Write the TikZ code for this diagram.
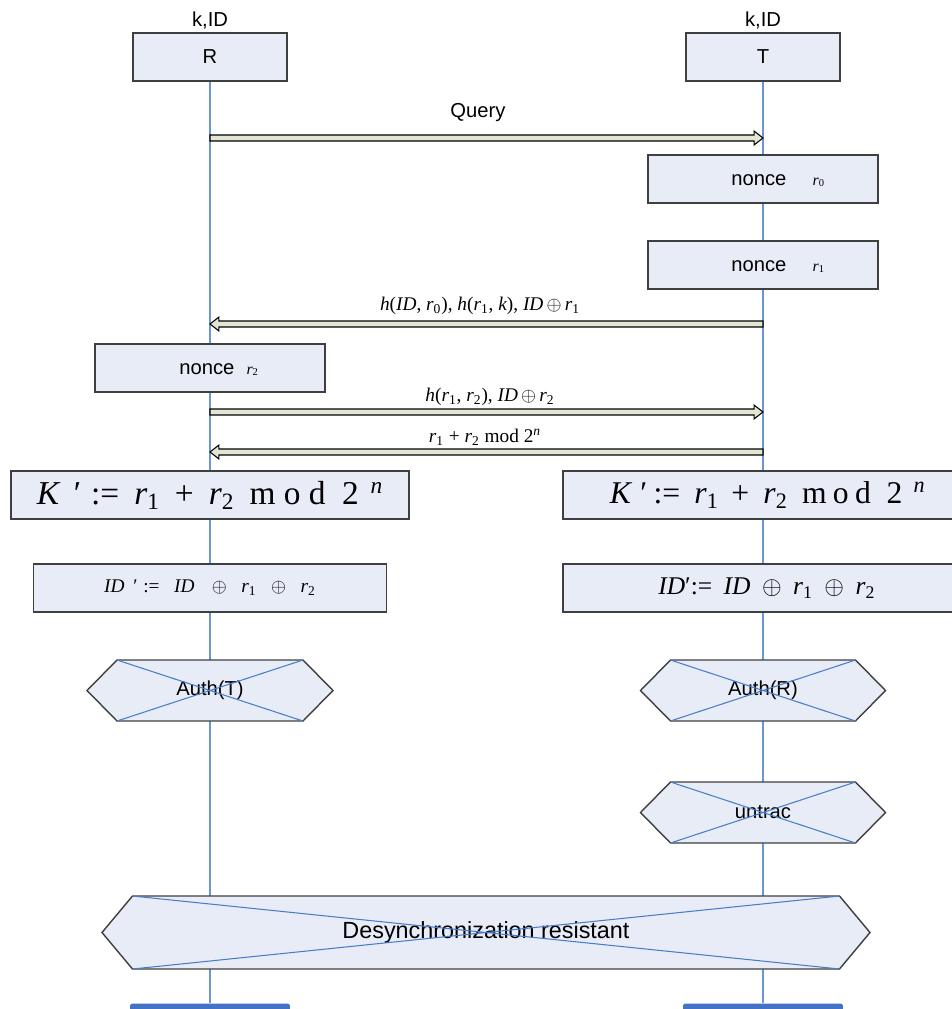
\documentclass[tikz,border=0pt]{standalone}
\usepackage{fontspec}
\setmainfont{Liberation Sans}
\newfontfamily\tms{Liberation Serif}
\usetikzlibrary{calc}

\definecolor{boxfill}{HTML}{E8ECF7}
\definecolor{boxline}{HTML}{3F3F3F}
\definecolor{lifeblue}{HTML}{6A96D8}
\definecolor{crossblue}{HTML}{4A7CC8}
\definecolor{arrowfill}{HTML}{E3E6D3}
\definecolor{barblue}{HTML}{4472C4}

% Times-style italic variable, upright symbol, subscript
\newcommand\im[1]{{\tms\itshape #1}}
\newcommand\up[1]{{\tms\upshape #1}}
\newcommand\sbs[1]{\textsubscript{\tms\upshape #1}}
\newcommand\prm{{\tms\upshape\char"2032}}

% hexagonal decision box with a cross: name, cx, cy, half flat width, half height, half tip width, text
\newcommand\hexnode[7]{%
  \path[hexfill] (#2-#4,#3-#5) -- (#2+#4,#3-#5) -- (#2+#6,#3) -- (#2+#4,#3+#5)
    -- (#2-#4,#3+#5) -- (#2-#6,#3) -- cycle;
  \node[hextext] (#1) at (#2,#3) {#7};
  \draw[hexcross] (#2-#4,#3-#5) -- (#2+#4,#3+#5) (#2+#4,#3-#5) -- (#2-#4,#3+#5);
}

% hollow block arrow between two points at the same height
\newcommand\fatarrow[2]{%
  \path[msgarrow] let \p1=(#1), \p2=(#2), \n1={(\x2>\x1) ? 1 : -1} in
    (\x1,{\y1+1.7pt}) -- ({\x2-\n1*5pt},{\y1+1.7pt}) -- ({\x2-\n1*5pt},{\y1+3.9pt})
    -- (\x2,\y1) -- ({\x2-\n1*5pt},{\y1-3.9pt}) -- ({\x2-\n1*5pt},{\y1-1.7pt})
    -- (\x1,{\y1-1.7pt}) -- cycle;
}

\begin{document}
\begin{tikzpicture}[x=0.02cm, y=-0.02cm,
  box/.style={draw=boxline, fill=boxfill, line width=0.8pt, inner sep=0pt,
    font=\fontsize{11.5}{13}\selectfont},
  noncebox/.style={box, minimum width=4.6cm, minimum height=0.96cm, text height=7pt, text depth=0pt},
  lifeline/.style={draw=lifeblue, line width=0.6pt},
  hexfill/.style={draw=boxline, fill=boxfill, line width=0.8pt},
  hextext/.style={inner sep=0pt, font=\fontsize{11.5}{13}\selectfont},
  hexcross/.style={draw=crossblue, line width=0.6pt},
  msgarrow/.style={draw=black, fill=arrowfill, line width=0.6pt, line join=miter},
  msglabel/.style={inner sep=0pt, font=\fontsize{11}{13}\selectfont\tms},
  plain/.style={inner sep=0pt, font=\fontsize{11.5}{13}\selectfont},
  bar/.style={fill=barblue, draw=none, inner sep=0pt, minimum width=3.2cm, minimum height=0.22cm, rounded corners=1pt}
]
\useasboundingbox (0,0) rectangle (952,1009);

% participants
\node[plain] (kR) at (210,20) {k,ID};
\node[plain] (kT) at (763,20) {k,ID};
\node[box, minimum width=3.08cm, minimum height=0.96cm] (R) at (210,57) {R};
\node[box, minimum width=3.08cm, minimum height=0.96cm] (T) at (763,57) {T};
\node[bar] (endR) at (210,1009) {};
\node[bar] (endT) at (763,1009) {};

% lifelines
\draw[lifeline] (R.south) -- (endR.north);
\draw[lifeline] (T.south) -- (endT.north);

% message heights on the lifelines
\coordinate (y1) at (0,138);
\coordinate (y2) at (0,324);
\coordinate (y3) at (0,412);
\coordinate (y4) at (0,452);

% Query
\fatarrow{R |- y1}{T |- y1}
\node[plain] (lq) at (478,113) {Query};

% tag nonces
\node[noncebox] (n0) at (763,179)
  {\hspace{1.5em}nonce\hspace{1.3em}{\fontsize{9}{9}\selectfont\im{r}\sbs{0}}};
\node[noncebox] (n1) at (763,265)
  {\hspace{1.5em}nonce\hspace{1.3em}{\fontsize{9}{9}\selectfont\im{r}\sbs{1}}};

% tag -> reader
\fatarrow{T |- y2}{R |- y2}
\node[msglabel] (l2) at (480,306)
  {\im{h}(\im{ID}, \im{r}\sbs{0}), \im{h}(\im{r}\sbs{1}, \im{k}), \im{ID}\,$\oplus$\,\im{r}\sbs{1}};

% reader nonce
\node[noncebox] (n2) at (210,368)
  {\hspace{0.9em}nonce\hspace{0.6em}{\fontsize{9}{9}\selectfont\im{r}\sbs{2}}};

% reader -> tag
\fatarrow{R |- y3}{T |- y3}
\node[msglabel] (l3) at (490,397)
  {\im{h}(\im{r}\sbs{1}, \im{r}\sbs{2}), \im{ID}\,$\oplus$\,\im{r}\sbs{2}};

% tag -> reader
\fatarrow{T |- y4}{R |- y4}
\node[msglabel] (l4) at (485,437)
  {\im{r}\sbs{1} + \im{r}\sbs{2} mod 2\textsuperscript{\im{n}}};

% key update
\node[box, minimum width=7.96cm, minimum height=0.96cm] (kl) at (210,495)
  {\tms\fontsize{19}{19}\selectfont
   \textit{K}\hspace{0.4em}\prm\hspace{0.3em}:=\hspace{0.45em}\textit{r}\textsubscript{1}\hspace{0.45em}+\hspace{0.45em}\textit{r}\textsubscript{2}\hspace{0.45em}m\hspace{0.25em}o\hspace{0.25em}d\hspace{0.5em}2\hspace{0.35em}\textsuperscript{\textit{n}}};
\node[box, minimum width=8cm, minimum height=0.96cm] (kr) at (763,495)
  {\tms\fontsize{18}{18}\selectfont
   \hspace{0.3em}\textit{K}\hspace{0.25em}\prm\hspace{0.2em}:=\hspace{0.45em}\textit{r}\textsubscript{1}\hspace{0.4em}+\hspace{0.45em}\textit{r}\textsubscript{2}\hspace{0.45em}m\hspace{0.2em}o\hspace{0.2em}d\hspace{0.5em}2\hspace{0.35em}\textsuperscript{\textit{n}}};

% identifier update
\node[box, minimum width=7.06cm, minimum height=0.96cm] (il) at (210,588)
  {\tms\fontsize{11}{11}\selectfont
   \textit{ID}\hspace{0.45em}\prm\hspace{0.3em}:=\hspace{0.75em}\textit{ID}\hspace{0.9em}$\oplus$\hspace{0.75em}\textit{r}\sbs{1}\hspace{0.75em}$\oplus$\hspace{0.75em}\textit{r}\sbs{2}};
\node[box, minimum width=8cm, minimum height=0.96cm] (ir) at (763,588)
  {\tms\fontsize{14.5}{15}\selectfont
   \hspace{0.3em}\textit{ID}\prm:=\hspace{0.45em}\textit{ID}\hspace{0.45em}$\oplus$\hspace{0.45em}\textit{r}\sbs{1}\hspace{0.45em}$\oplus$\hspace{0.45em}\textit{r}\sbs{2}};

% authentication and properties
\hexnode{authT}{210}{690.5}{93}{30.5}{123}{Auth(T)}
\hexnode{authR}{763}{690.5}{92.5}{30.5}{122.5}{Auth(R)}
\hexnode{untrac}{763}{812.5}{92.5}{30.5}{122.5}{untrac}
\hexnode{desync}{486}{932.5}{353.5}{36.5}{384}{\fontsize{13.3}{15}\selectfont Desynchronization resistant}

\end{tikzpicture}
\end{document}
